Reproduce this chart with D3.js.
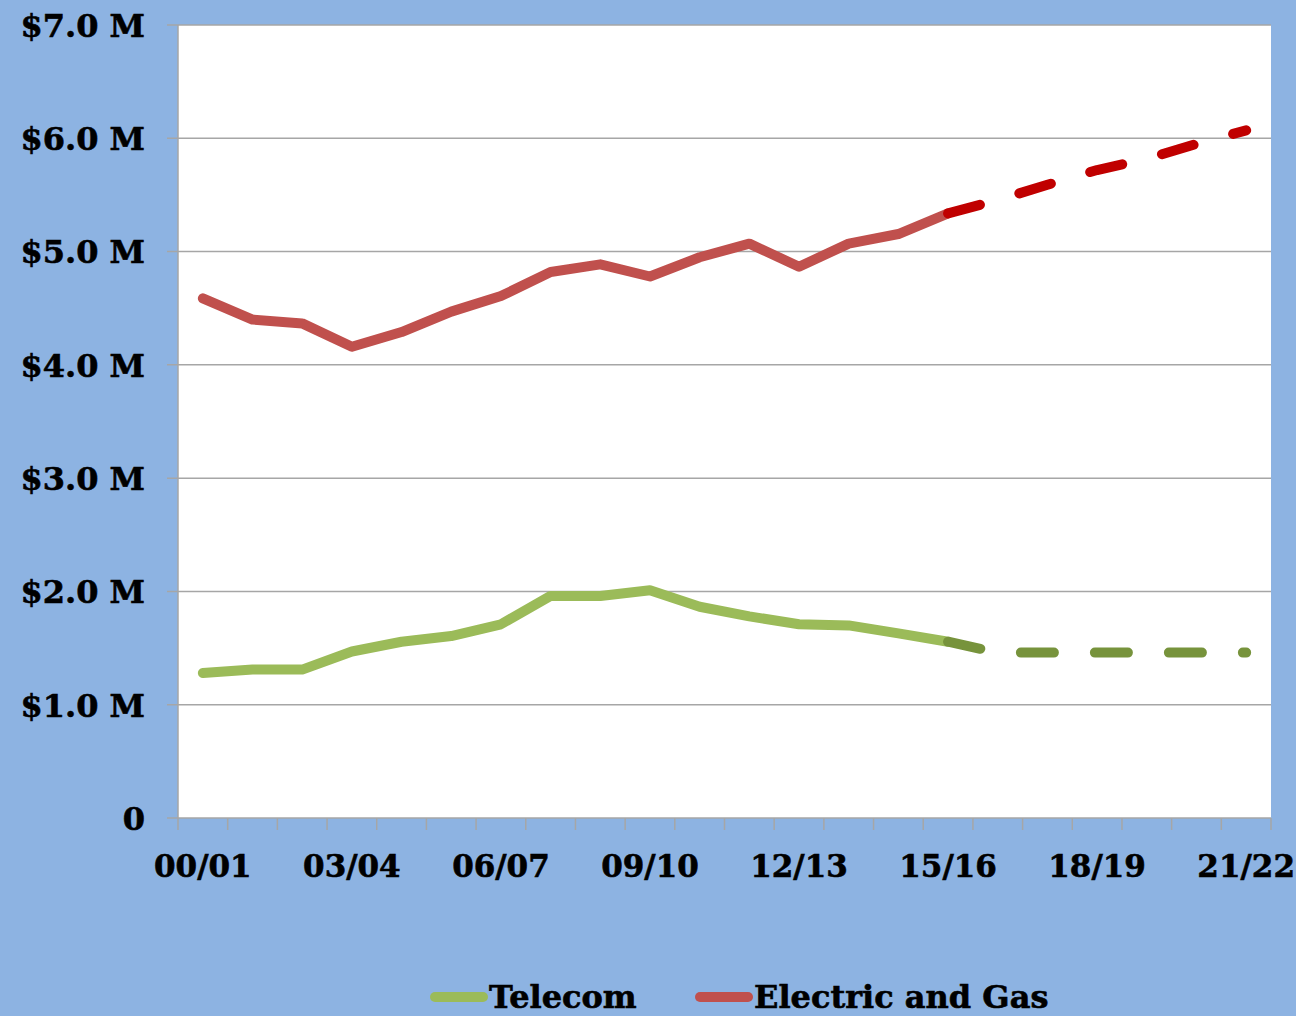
<!DOCTYPE html>
<html>
<head>
<meta charset="utf-8">
<script src="https://cdn.jsdelivr.net/npm/d3@7"></script>
<style>
  body { margin: 0; background: #8db3e2; }
  svg text { font-family: "DejaVu Serif", "Liberation Serif", serif; font-weight: bold; fill: #000; stroke: #000; stroke-width: 0.6px; }
</style>
</head>
<body>
<div id="chart"></div>
<script>
var years = ["00/01","01/02","02/03","03/04","04/05","05/06","06/07","07/08","08/09","09/10","10/11",
             "11/12","12/13","13/14","14/15","15/16","16/17","17/18","18/19","19/20","20/21","21/22"];

// $ millions, actuals through 15/16
var telecom = [1.28, 1.31, 1.31, 1.47, 1.556, 1.606, 1.71, 1.96, 1.96, 2.01, 1.865, 1.78, 1.71, 1.70, 1.63, 1.556];
var electric = [4.587, 4.40, 4.366, 4.16, 4.29, 4.47, 4.607, 4.82, 4.887, 4.78, 4.95, 5.07, 4.866, 5.07, 5.155, 5.337];

// projections, 15/16 .. 21/22
var telecomProj = [1.556, 1.46, 1.46, 1.46, 1.46, 1.46, 1.46];
var electricProj = [5.337, 5.455, 5.59, 5.72, 5.82, 5.95, 6.07];

var yTicks = [0, 1, 2, 3, 4, 5, 6, 7];
var xLabels = ["00/01","03/04","06/07","09/10","12/13","15/16","18/19","21/22"];

var width = 1296, height = 1016;
var margin = {top: 25, right: 25, bottom: 198, left: 178};

var svg = d3.select("#chart").append("svg")
  .attr("width", width)
  .attr("height", height);

svg.append("rect")
  .attr("width", width).attr("height", height)
  .attr("fill", "#8db3e2");

var x = d3.scaleBand()
  .domain(years)
  .range([margin.left, width - margin.right])
  .padding(0);

var y = d3.scaleLinear()
  .domain([0, 7])
  .range([height - margin.bottom, margin.top]);

var cx = function(d) { return x(d) + x.bandwidth() / 2; };

svg.append("rect")
  .attr("x", margin.left).attr("y", margin.top)
  .attr("width", width - margin.right - margin.left)
  .attr("height", y(0) - margin.top)
  .attr("fill", "#fff");

// gridlines + y ticks
svg.append("g").selectAll("line")
  .data(yTicks.filter(function(d) { return d > 0; }))
  .enter().append("line")
  .attr("x1", margin.left - 11)
  .attr("x2", width - margin.right)
  .attr("y1", function(d) { return y(d); })
  .attr("y2", function(d) { return y(d); })
  .attr("stroke", "#a6a6a6")
  .attr("stroke-width", 1.5);

svg.append("g").selectAll("text")
  .data(yTicks)
  .enter().append("text")
  .attr("x", 145)
  .attr("y", function(d) { return y(d); })
  .attr("dy", "0.37em")
  .attr("text-anchor", "end")
  .style("font-size", "32px")
  .text(function(d) { return d === 0 ? "0" : "$" + d.toFixed(1) + " M"; });

// axes lines
svg.append("line")
  .attr("x1", margin.left).attr("x2", margin.left)
  .attr("y1", margin.top).attr("y2", y(0))
  .attr("stroke", "#a6a6a6").attr("stroke-width", 1.5);

svg.append("line")
  .attr("x1", margin.left - 11).attr("x2", width - margin.right)
  .attr("y1", y(0)).attr("y2", y(0))
  .attr("stroke", "#a6a6a6").attr("stroke-width", 1.5);

// x ticks on band edges
var edges = years.map(function(d) { return x(d); }).concat([x.range()[1]]);
svg.append("g").selectAll("line")
  .data(edges)
  .enter().append("line")
  .attr("x1", function(d) { return d; })
  .attr("x2", function(d) { return d; })
  .attr("y1", y(0))
  .attr("y2", y(0) + 12)
  .attr("stroke", "#a6a6a6")
  .attr("stroke-width", 1.5);

svg.append("g").selectAll("text")
  .data(xLabels)
  .enter().append("text")
  .attr("x", cx)
  .attr("y", 877)
  .attr("text-anchor", "middle")
  .style("font-size", "31px")
  .text(function(d) { return d; });

var line = d3.line()
  .x(function(d) { return cx(d.year); })
  .y(function(d) { return y(d.v); });

function pts(vals, offset) {
  return vals.map(function(v, i) { return {year: years[i + offset], v: v}; });
}

function drawLine(vals, offset, color, dashed) {
  var p = svg.append("path")
    .datum(pts(vals, offset))
    .attr("d", line)
    .attr("fill", "none")
    .attr("stroke", color)
    .attr("stroke-width", 10)
    .attr("stroke-linecap", "round")
    .attr("stroke-linejoin", "round");
  if (dashed) p.attr("stroke-dasharray", "33,41");
}

drawLine(telecom, 0, "#9bbb59", false);
drawLine(electric, 0, "#c0504d", false);
drawLine(telecomProj, 15, "#77933c", true);
drawLine(electricProj, 15, "#c00000", true);

// legend
var legend = [
  {name: "Telecom", color: "#9bbb59", x: 430},
  {name: "Electric and Gas", color: "#c0504d", x: 695}
];
var lg = svg.append("g").selectAll("g")
  .data(legend)
  .enter().append("g");

lg.append("line")
  .attr("x1", function(d) { return d.x + 5; })
  .attr("x2", function(d) { return d.x + 53; })
  .attr("y1", 997).attr("y2", 997)
  .attr("stroke", function(d) { return d.color; })
  .attr("stroke-width", 10)
  .attr("stroke-linecap", "round");

lg.append("text")
  .attr("x", function(d) { return d.x + 59; })
  .attr("y", 1008)
  .style("font-size", "32px")
  .text(function(d) { return d.name; });
</script>
</body>
</html>
